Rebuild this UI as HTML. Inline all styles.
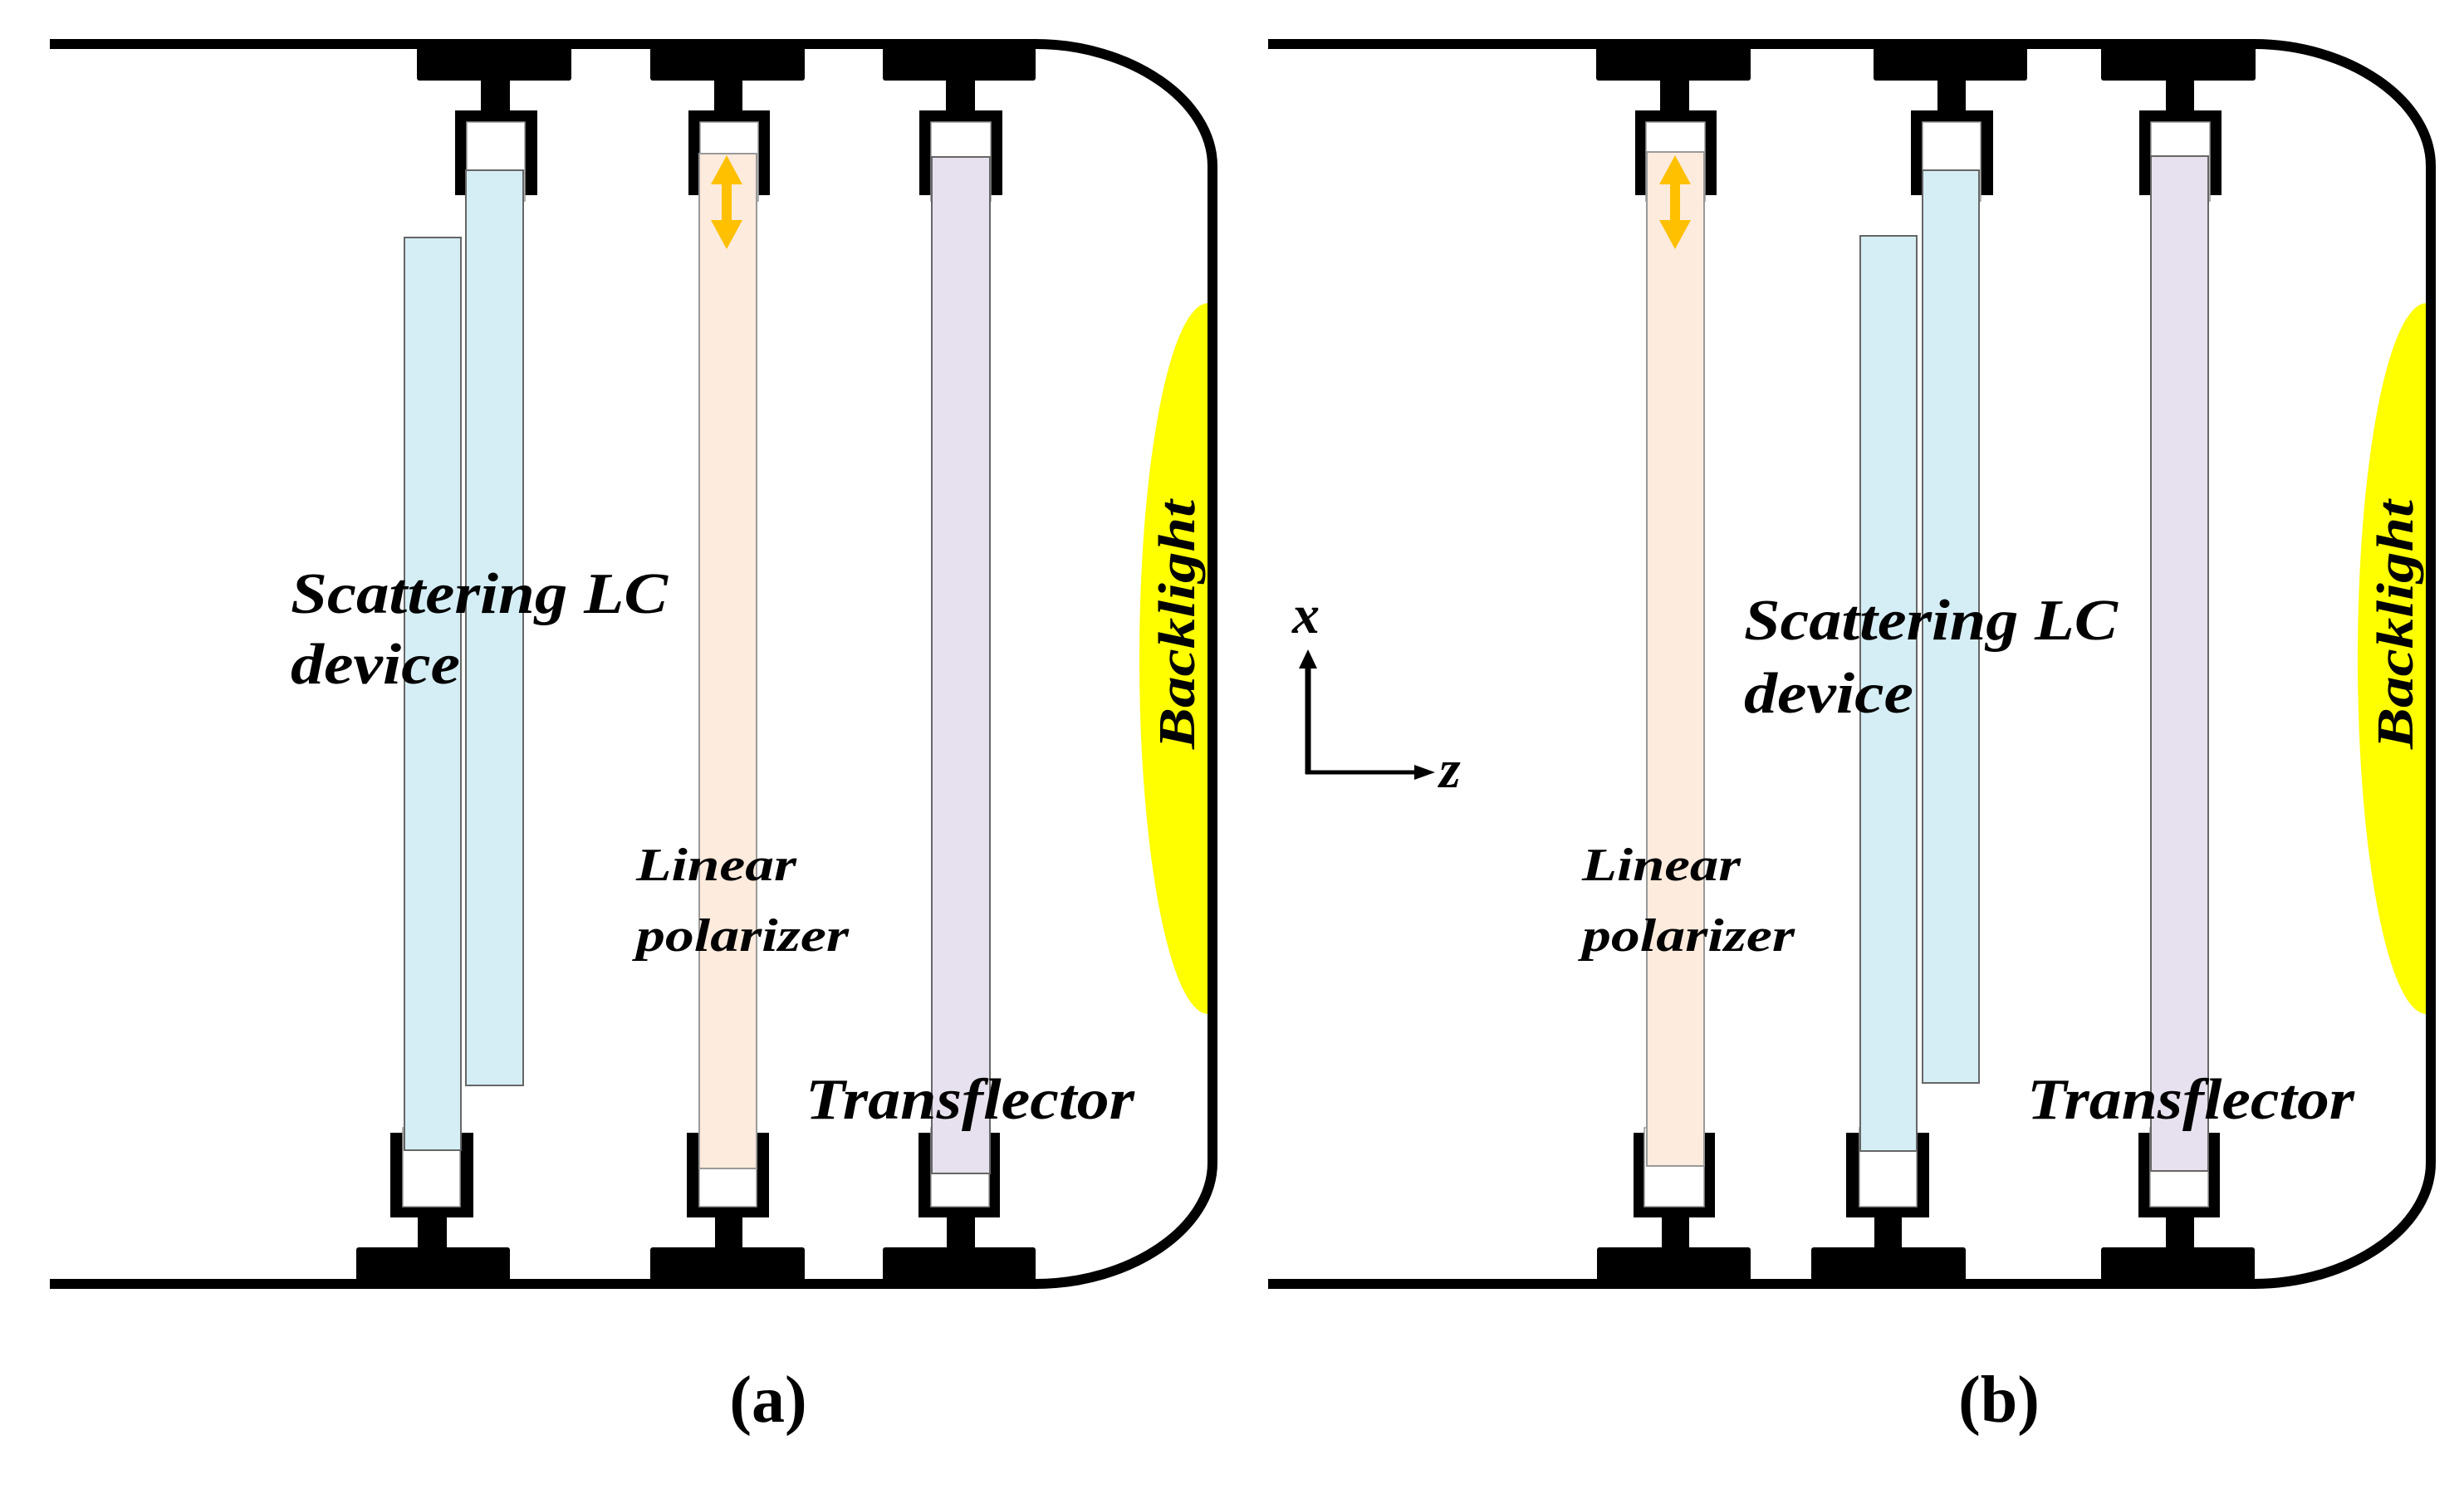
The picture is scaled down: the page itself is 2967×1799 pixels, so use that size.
<!DOCTYPE html>
<html><head><meta charset="utf-8"><style>html,body{margin:0;padding:0;background:#fff}svg{display:block}
text{font-family:"Liberation Serif",serif;font-weight:bold;font-style:italic;fill:#000}</style></head>
<body>
<svg width="2967" height="1799" viewBox="0 0 2967 1799" xmlns="http://www.w3.org/2000/svg">
<defs>
<clipPath id="ca"><rect x="1300" y="0" width="154" height="1799"/></clipPath>
<clipPath id="cb"><rect x="2767" y="0" width="154" height="1799"/></clipPath>
<g id="dbl">
<rect x="-6" y="30" width="12" height="50" fill="#ffc000"/>
<polygon points="0,0 19,35 -19,35" fill="#ffc000"/>
<polygon points="0,113 19,78 -19,78" fill="#ffc000"/>
</g>
</defs>

<ellipse cx="1455" cy="793" rx="83" ry="428" fill="#ffff00" clip-path="url(#ca)"/>
<ellipse cx="2922" cy="793" rx="83" ry="428" fill="#ffff00" clip-path="url(#cb)"/>

<path d="M60,53 H1247 C1360,53 1460,120 1460,200 V1400 C1460,1480 1360,1546 1247,1546 H60" fill="none" stroke="#000" stroke-width="12"/>
<path d="M1527,53 H2714 C2827,53 2927,120 2927,200 V1400 C2927,1480 2827,1546 2714,1546 H1527" fill="none" stroke="#000" stroke-width="12"/>

<g fill="#000">
<rect x="502" y="55" width="186" height="42" rx="3"/><rect x="579" y="96" width="35" height="38"/><rect x="548" y="133" width="99" height="102"/>
<rect x="783" y="55" width="186" height="42" rx="3"/><rect x="860" y="96" width="34" height="38"/><rect x="829" y="133" width="98" height="102"/>
<rect x="1063" y="55" width="184" height="42" rx="3"/><rect x="1139" y="96" width="35" height="38"/><rect x="1107" y="133" width="100" height="102"/>
<rect x="470" y="1364" width="100" height="102"/><rect x="503" y="1465" width="35" height="38"/><rect x="429" y="1502" width="185" height="42" rx="3"/>
<rect x="827" y="1364" width="99" height="102"/><rect x="861" y="1465" width="33" height="38"/><rect x="783" y="1502" width="186" height="42" rx="3"/>
<rect x="1106" y="1364" width="98" height="102"/><rect x="1140" y="1465" width="34" height="38"/><rect x="1063" y="1502" width="184" height="42" rx="3"/>
<rect x="1922" y="55" width="186" height="42" rx="3"/><rect x="1999" y="96" width="35" height="38"/><rect x="1969" y="133" width="98" height="102"/>
<rect x="2256" y="55" width="185" height="42" rx="3"/><rect x="2333" y="96" width="34" height="38"/><rect x="2301" y="133" width="99" height="102"/>
<rect x="2530" y="55" width="186" height="42" rx="3"/><rect x="2608" y="96" width="34" height="38"/><rect x="2576" y="133" width="99" height="102"/>
<rect x="1967" y="1364" width="98" height="102"/><rect x="2001" y="1465" width="33" height="38"/><rect x="1923" y="1502" width="185" height="42" rx="3"/>
<rect x="2223" y="1364" width="100" height="102"/><rect x="2257" y="1465" width="33" height="38"/><rect x="2181" y="1502" width="186" height="42" rx="3"/>
<rect x="2575" y="1364" width="98" height="102"/><rect x="2608" y="1465" width="34" height="38"/><rect x="2530" y="1502" width="185" height="42" rx="3"/>
</g>

<g fill="#fff" stroke="#999" stroke-width="1.5">
<rect x="562" y="147" width="70" height="95"/><rect x="843" y="147" width="70" height="95"/><rect x="1121" y="147" width="72" height="95"/>
<rect x="485" y="1358" width="69" height="95"/><rect x="842" y="1358" width="69" height="95"/><rect x="1121" y="1358" width="70" height="95"/>
<rect x="1982" y="147" width="71" height="95"/><rect x="2315" y="147" width="70" height="95"/><rect x="2590" y="147" width="71" height="95"/>
<rect x="1980" y="1358" width="72" height="95"/><rect x="2239" y="1358" width="69" height="95"/><rect x="2589" y="1358" width="70" height="95"/>
</g>

<g stroke="#666" stroke-width="2">
<rect x="487" y="286" width="68" height="1099" fill="#d5eef5"/>
<rect x="561" y="205" width="69" height="1102" fill="#d5eef5"/>
<rect x="842" y="185" width="69" height="1222" fill="#fdebdd" stroke="#999"/>
<rect x="1122" y="189" width="70" height="1224" fill="#e7e0ee"/>
<rect x="1983" y="183" width="69" height="1221" fill="#fdebdd" stroke="#999"/>
<rect x="2240" y="284" width="68" height="1102" fill="#d5eef5"/>
<rect x="2315" y="205" width="68" height="1099" fill="#d5eef5"/>
<rect x="2590" y="188" width="69" height="1222" fill="#e7e0ee"/>
</g>

<use href="#dbl" x="875" y="187"/>
<use href="#dbl" x="2017" y="187"/>

<text x="350" y="738" font-size="70" textLength="454" lengthAdjust="spacingAndGlyphs">Scattering LC</text>
<text x="350" y="823" font-size="70" textLength="204" lengthAdjust="spacingAndGlyphs">device</text>
<text x="766" y="1060" font-size="56" textLength="193" lengthAdjust="spacingAndGlyphs">Linear</text>
<text x="766" y="1145" font-size="56" textLength="256" lengthAdjust="spacingAndGlyphs">polarizer</text>
<text x="970" y="1347" font-size="70" textLength="396" lengthAdjust="spacingAndGlyphs">Transflector</text>
<text transform="translate(1438,752) rotate(-90)" font-size="62" text-anchor="middle" textLength="300" lengthAdjust="spacingAndGlyphs">Backlight</text>

<text x="2100" y="770" font-size="70" textLength="450" lengthAdjust="spacingAndGlyphs">Scattering LC</text>
<text x="2100" y="858" font-size="70" textLength="204" lengthAdjust="spacingAndGlyphs">device</text>
<text x="1905" y="1060" font-size="56" textLength="191" lengthAdjust="spacingAndGlyphs">Linear</text>
<text x="1905" y="1145" font-size="56" textLength="256" lengthAdjust="spacingAndGlyphs">polarizer</text>
<text x="2441" y="1347" font-size="70" textLength="394" lengthAdjust="spacingAndGlyphs">Transflector</text>
<text transform="translate(2905,752) rotate(-90)" font-size="62" text-anchor="middle" textLength="300" lengthAdjust="spacingAndGlyphs">Backlight</text>

<line x1="1575" y1="932" x2="1575" y2="800" stroke="#000" stroke-width="7"/>
<polygon points="1575,782 1586,805 1564,805" fill="#000"/>
<line x1="1572" y1="930" x2="1705" y2="930" stroke="#000" stroke-width="5"/>
<polygon points="1728,930 1703,921 1703,939" fill="#000"/>
<text x="1556" y="762" font-size="66">x</text>
<text x="1733" y="948" font-size="66">z</text>

<text x="925" y="1712" font-size="80" style="font-style:normal" text-anchor="middle">(a)</text>
<text x="2407" y="1712" font-size="80" style="font-style:normal" text-anchor="middle">(b)</text>
</svg>
</body></html>
